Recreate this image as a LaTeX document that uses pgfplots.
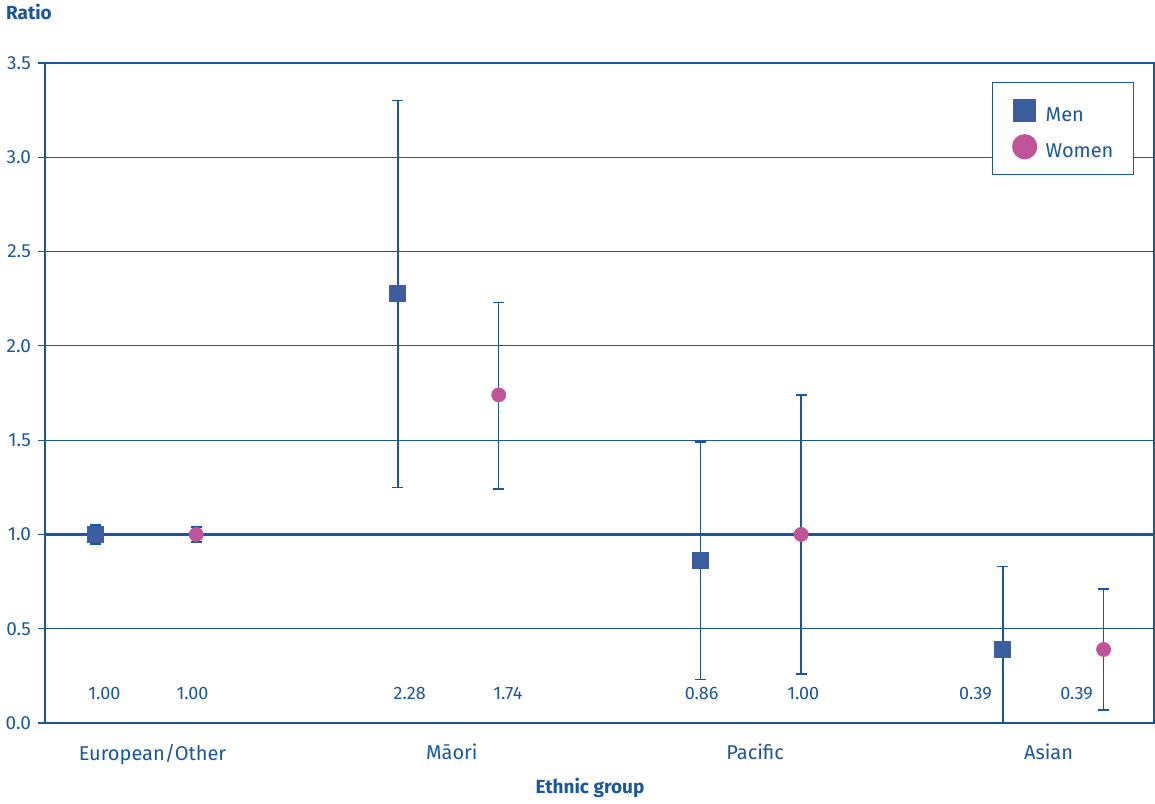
\documentclass[border=0pt]{standalone}
\usepackage{fontspec}
\setmainfont{Fira Sans}
\usepackage{pgfplots}
\usepackage{pgfplotstable}
\pgfplotsset{compat=1.18}
\definecolor{ablue}{RGB}{26,86,155}
\definecolor{menc}{RGB}{58,94,160}
\definecolor{womc}{RGB}{192,84,154}

\pgfplotstableread{
x y ep em
0 1.00 0.05 0.05
3 2.28 1.02 1.03
6 0.86 0.63 0.63
9 0.39 0.44 0.39
}\men
\pgfplotstableread{
x y ep em
1 1.00 0.04 0.04
4 1.74 0.49 0.50
7 1.00 0.74 0.74
10 0.39 0.32 0.32
}\women

\begin{document}
\begin{tikzpicture}
\begin{axis}[
  width=554.5pt, height=330pt, scale only axis,
  xmin=-0.5, xmax=10.5, ymin=0, ymax=3.5,
  clip=false,
  axis line style={ablue, line width=1pt},
  ytick={0,0.5,1,1.5,2,2.5,3,3.5},
  yticklabel style={/pgf/number format/fixed,/pgf/number format/fixed zerofill,/pgf/number format/precision=1,/pgf/number format/assume math mode=true, text=ablue, font=\fontsize{9.5}{11}\selectfont},
  ytick pos=left, tick align=outside,
  y tick style={ablue, line width=0.6pt},
  major tick length=3.5pt,
  ymajorgrids, grid style={ablue, line width=0.6pt},
  xtick={0.566,3.535,6.544,9.454},
  xticklabels={European/Other,Māori,Pacific,Asian},
  x tick style={draw=none},
  xticklabel style={text=ablue, font=\fontsize{10}{12}\selectfont, yshift=-3.5pt},
  legend style={at={(rel axis cs:0.854,0.971)}, anchor=north west, draw=ablue, line width=0.6pt,
    font=\fontsize{10}{12}\selectfont, text=ablue, inner xsep=10pt, inner ysep=7.5pt, row sep=5pt,
    nodes={inner sep=0pt, text height=12pt, text depth=1pt},
    /tikz/every odd column/.append style={column sep=4.5pt}},
  legend cell align=left,
  legend image code/.code={\draw[#1] plot coordinates {(0pt,0pt)};},
]
\addplot[ablue, line width=1.5pt, forget plot] coordinates {(-0.5,1) (10.5,1)};
\addplot[only marks, mark=square*, mark size=4pt, mark options={draw=menc, fill=menc}, forget plot,
  error bars/.cd, y dir=both, y explicit,
  error bar style={ablue, line width=0.75pt},
  error mark options={rotate=90, ablue, mark size=2.8pt, line width=0.75pt}]
  table[x=x, y=y, y error plus=ep, y error minus=em]{\men};
\addplot[only marks, mark=*, mark size=3.5pt, mark options={draw=womc, fill=womc}, forget plot,
  error bars/.cd, y dir=both, y explicit,
  error bar style={ablue, line width=0.75pt},
  error mark options={rotate=90, ablue, mark size=2.8pt, line width=0.75pt}]
  table[x=x, y=y, y error plus=ep, y error minus=em]{\women};
\addlegendimage{only marks, mark=square*, mark size=5.5pt, mark options={draw=menc, fill=menc}}
\addlegendentry{Men}
\addlegendimage{only marks, mark=*, mark size=6pt, mark options={draw=womc, fill=womc}}
\addlegendentry{Women}
\begin{scope}[every node/.style={text=ablue, font=\fontsize{9}{11}\selectfont}]
\node at (axis cs:0.089,0.155) {1.00};
\node at (axis cs:0.963,0.155) {1.00};
\node at (axis cs:3.118,0.155) {2.28};
\node at (axis cs:4.091,0.155) {1.74};
\node at (axis cs:6.013,0.155) {0.86};
\node at (axis cs:7.021,0.155) {1.00};
\node at (axis cs:8.729,0.155) {0.39};
\node at (axis cs:9.732,0.155) {0.39};
\end{scope}
\node[anchor=west, text=ablue, font=\bfseries\fontsize{9.5}{11}\selectfont, xshift=-23pt, yshift=25.5pt] at (rel axis cs:0,1) {Ratio};
\node[text=ablue, font=\bfseries\fontsize{9.5}{11}\selectfont, yshift=-32.5pt] at (axis cs:4.906,0) {Ethnic group};
\coordinate (O) at (rel axis cs:0,0);
\coordinate (T) at (rel axis cs:1,1);
\end{axis}
\pgfresetboundingbox
\path ([shift={(-22.5pt,-40pt)}]O) rectangle ([shift={(0.5pt,31.5pt)}]T);
\end{tikzpicture}
\end{document}
